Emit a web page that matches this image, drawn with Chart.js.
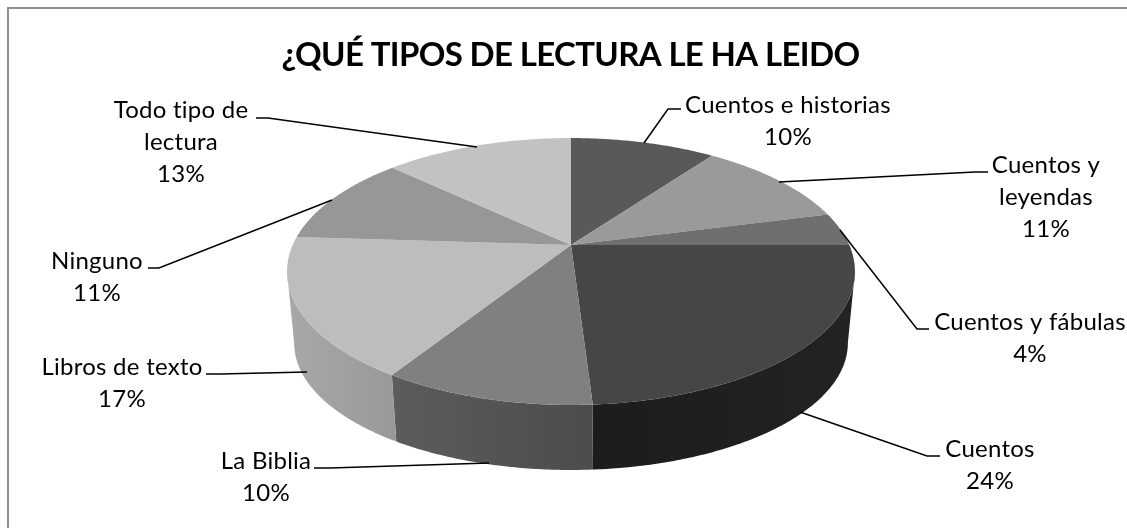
<!DOCTYPE html>
<html lang="es">
<head>
<meta charset="utf-8">
<title>¿QUÉ TIPOS DE LECTURA LE HA LEIDO</title>
<script src="https://cdn.jsdelivr.net/npm/chart.js@4"></script>
<style>
  html, body { margin: 0; padding: 0; background: #fff; }
  canvas { display: block; }
</style>
</head>
<body>
<canvas id="pieChart" width="1127" height="528"></canvas>
<script>
const chartTitle = "¿QUÉ TIPOS DE LECTURA LE HA LEIDO";
const categories = [
  "Cuentos e historias",
  "Cuentos y leyendas",
  "Cuentos y fábulas",
  "Cuentos",
  "La Biblia",
  "Libros de texto",
  "Ninguno",
  "Todo tipo de lectura",
];
const percentages = [10, 11, 4, 24, 10, 17, 11, 13];
const topColors = ["#595959", "#9a9a9a", "#6f6f6f", "#464646", "#808080", "#bdbdbd", "#979797", "#c2c2c2"];
const sideColors = [null, null, null, ["#1c1c1c", "#232323"], ["#5c5c5c", "#4c4c4c"], ["#a8a8a8", "#999999"], null, null];

// label boxes: wrapped lines, centre x, y of first line, then the leader line
const labelLines = [
  ["Cuentos e historias"], ["Cuentos y", "leyendas"], ["Cuentos y fábulas"], ["Cuentos"],
  ["La Biblia"], ["Libros de texto"], ["Ninguno"], ["Todo tipo de", "lectura"],
];
const labelX = [788, 1046, 1030, 990, 266, 122, 97, 181];
const labelY = [105, 165, 322, 449, 461, 367, 261, 110];
const leaders = [
  [[681, 109], [668, 109], [644, 143]],
  [[988, 172], [975, 172], [779, 182]],
  [[929, 329], [917, 329], [840, 230]],
  [[940, 456], [927, 456], [800, 412]],
  [[314, 468], [330, 468], [489, 463]],
  [[206, 374], [220, 374], [307, 372]],
  [[148, 268], [159, 268], [332, 200]],
  [[256, 118], [268, 118], [477, 147]],
];

// projection of the flat pie onto the tilted view
const view = { cx: 571, cy: 245, a: 278.3, b: 128.2, k: 0.1985, drop: 73, shrinkX: 0.975, shrinkY: 0.95 };
// rim angles where the outline turns from top face to side wall
const wallFrom = Math.acos(-view.k);
const wallTo = 2 * Math.PI - wallFrom;

function project(theta, lower) {
  const x = Math.sin(theta);
  const y = -Math.cos(theta);
  const d = 1 - view.k * y;
  return {
    x: view.cx + ((lower ? view.shrinkX : 1) * view.a * x) / d,
    y: view.cy + (lower ? view.drop : 0) + ((lower ? view.shrinkY : 1) * view.b * y) / d,
  };
}

function rimPoints(start, end, lower) {
  const steps = Math.max(2, Math.ceil((end - start) / 0.01));
  const pts = [];
  for (let i = 0; i <= steps; i++) {
    pts.push(project(start + ((end - start) * i) / steps, lower));
  }
  return pts;
}

function tracePolygon(ctx, pts) {
  ctx.beginPath();
  pts.forEach((p, i) => (i ? ctx.lineTo(p.x, p.y) : ctx.moveTo(p.x, p.y)));
  ctx.closePath();
}

const pie3d = {
  id: "pie3d",
  afterLayout(chart) {
    // the title sits a little right of the canvas centre
    chart.titleBlock.left += 7;
    chart.titleBlock.right += 7;
  },
  beforeDraw(chart) {
    const ctx = chart.ctx;
    ctx.save();
    ctx.strokeStyle = "#8e8e8e";
    ctx.lineWidth = 2;
    ctx.strokeRect(8, 8, 1300, 700);
    ctx.restore();
    ctx.letterSpacing = "-0.65px";
  },
  beforeDatasetsDraw(chart) {
    const ctx = chart.ctx;
    ctx.letterSpacing = "0px";
    const arcs = chart.getDatasetMeta(0).data;
    const angles = arcs.map((arc) => [arc.startAngle + Math.PI / 2, arc.endAngle + Math.PI / 2]);

    // side walls first, the top covers whatever is hidden
    angles.forEach(([start, end], i) => {
      if (!sideColors[i]) return;
      const from = Math.max(start, wallFrom);
      const to = Math.min(end, wallTo);
      const upper = rimPoints(from, to, false);
      const lower = rimPoints(from, to, true).reverse();
      const pts = upper.concat(lower);
      const xs = pts.map((p) => p.x);
      const grad = ctx.createLinearGradient(Math.min(...xs), 0, Math.max(...xs), 0);
      grad.addColorStop(0, sideColors[i][0]);
      grad.addColorStop(1, sideColors[i][1]);
      tracePolygon(ctx, pts);
      ctx.fillStyle = grad;
      ctx.fill();
    });

    angles.forEach(([start, end], i) => {
      const pts = [{ x: view.cx, y: view.cy }].concat(rimPoints(start, end, false));
      tracePolygon(ctx, pts);
      ctx.fillStyle = topColors[i];
      ctx.fill();
    });

    return false;
  },
  afterDraw(chart) {
    const ctx = chart.ctx;
    ctx.save();
    ctx.strokeStyle = "#000";
    ctx.lineWidth = 1.5;
    leaders.forEach((line) => {
      ctx.beginPath();
      line.forEach(([x, y], i) => (i ? ctx.lineTo(x, y) : ctx.moveTo(x, y)));
      ctx.stroke();
    });

    ctx.fillStyle = "#000";
    ctx.font = '24px Lato, "Open Sans", sans-serif';
    ctx.letterSpacing = "0.25px";
    ctx.textAlign = "center";
    ctx.textBaseline = "middle";
    labelLines.forEach((lines, i) => {
      const all = lines.concat(percentages[i] + "%");
      all.forEach((text, j) => ctx.fillText(text, labelX[i], labelY[i] + j * 32));
    });
    ctx.restore();
  },
};

new Chart(document.getElementById("pieChart"), {
  type: "pie",
  data: {
    labels: categories,
    datasets: [{ data: percentages, backgroundColor: topColors, borderWidth: 0 }],
  },
  options: {
    responsive: false,
    animation: false,
    plugins: {
      legend: { display: false },
      tooltip: { enabled: false },
      title: {
        display: true,
        text: chartTitle,
        color: "#000",
        font: { family: 'Lato, "Open Sans", sans-serif', size: 33, weight: "bold" },
        padding: { top: 36, bottom: 10 },
      },
    },
  },
  plugins: [pie3d],
});
</script>
</body>
</html>
